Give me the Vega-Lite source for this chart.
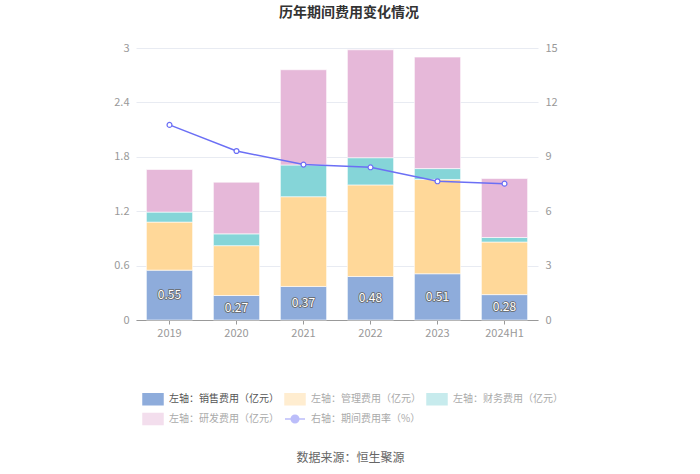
{
  "$schema": "https://vega.github.io/schema/vega-lite/v6.json",
  "autosize": "none",
  "width": 402,
  "height": 272,
  "padding": {"left": 136, "top": 48, "right": 162, "bottom": 154},
  "background": "white",
  "config": {
    "font": "Noto Sans CJK SC",
    "view": {"stroke": null}
  },
  "title": {
    "text": "历年期间费用变化情况",
    "fontSize": 14,
    "fontWeight": "bold",
    "color": "#333333",
    "anchor": "middle",
    "dx": 12,
    "offset": 22
  },
  "datasets": {
    "cost": [
      {"year": "2019", "type": "左轴：销售费用（亿元）", "seq": 1, "value": 0.55},
      {"year": "2019", "type": "左轴：管理费用（亿元）", "seq": 2, "value": 0.53},
      {"year": "2019", "type": "左轴：财务费用（亿元）", "seq": 3, "value": 0.11},
      {"year": "2019", "type": "左轴：研发费用（亿元）", "seq": 4, "value": 0.47},
      {"year": "2020", "type": "左轴：销售费用（亿元）", "seq": 1, "value": 0.27},
      {"year": "2020", "type": "左轴：管理费用（亿元）", "seq": 2, "value": 0.55},
      {"year": "2020", "type": "左轴：财务费用（亿元）", "seq": 3, "value": 0.13},
      {"year": "2020", "type": "左轴：研发费用（亿元）", "seq": 4, "value": 0.57},
      {"year": "2021", "type": "左轴：销售费用（亿元）", "seq": 1, "value": 0.37},
      {"year": "2021", "type": "左轴：管理费用（亿元）", "seq": 2, "value": 0.99},
      {"year": "2021", "type": "左轴：财务费用（亿元）", "seq": 3, "value": 0.35},
      {"year": "2021", "type": "左轴：研发费用（亿元）", "seq": 4, "value": 1.05},
      {"year": "2022", "type": "左轴：销售费用（亿元）", "seq": 1, "value": 0.48},
      {"year": "2022", "type": "左轴：管理费用（亿元）", "seq": 2, "value": 1.01},
      {"year": "2022", "type": "左轴：财务费用（亿元）", "seq": 3, "value": 0.30},
      {"year": "2022", "type": "左轴：研发费用（亿元）", "seq": 4, "value": 1.19},
      {"year": "2023", "type": "左轴：销售费用（亿元）", "seq": 1, "value": 0.51},
      {"year": "2023", "type": "左轴：管理费用（亿元）", "seq": 2, "value": 1.04},
      {"year": "2023", "type": "左轴：财务费用（亿元）", "seq": 3, "value": 0.12},
      {"year": "2023", "type": "左轴：研发费用（亿元）", "seq": 4, "value": 1.23},
      {"year": "2024H1", "type": "左轴：销售费用（亿元）", "seq": 1, "value": 0.28},
      {"year": "2024H1", "type": "左轴：管理费用（亿元）", "seq": 2, "value": 0.58},
      {"year": "2024H1", "type": "左轴：财务费用（亿元）", "seq": 3, "value": 0.05},
      {"year": "2024H1", "type": "左轴：研发费用（亿元）", "seq": 4, "value": 0.65}
    ],
    "rate": [
      {"year": "2019", "rate": 10.76},
      {"year": "2020", "rate": 9.32},
      {"year": "2021", "rate": 8.57},
      {"year": "2022", "rate": 8.42},
      {"year": "2023", "rate": 7.65},
      {"year": "2024H1", "rate": 7.52}
    ]
  },
  "encoding": {
    "x": {
      "field": "year",
      "type": "nominal",
      "sort": null,
      "scale": {"paddingInner": 0.31, "paddingOuter": 0.155},
      "axis": {
        "labelAngle": 0,
        "labelColor": "#999999",
        "labelFontSize": 11,
        "labelPadding": 3,
        "tickSize": 4,
        "tickColor": "#999999",
        "domainColor": "#999999",
        "grid": false,
        "title": "数据来源：恒生聚源",
        "titleFontSize": 12,
        "titleFontWeight": "normal",
        "titleColor": "#666666",
        "titleX": 214,
        "titleY": 137,
        "titleAlign": "center",
        "titleBaseline": "middle"
      }
    }
  },
  "layer": [
    {
      "data": {"name": "cost"},
      "mark": {"type": "bar", "stroke": "white", "strokeWidth": 0.6},
      "encoding": {
        "y": {
          "field": "value",
          "type": "quantitative",
          "aggregate": "sum",
          "stack": "zero",
          "scale": {"domain": [0, 3], "nice": false},
          "axis": {
            "title": null,
            "values": [0, 0.6, 1.2, 1.8, 2.4, 3],
            "format": "~g",
            "labelColor": "#999999",
            "labelFontSize": 11,
            "labelPadding": 7,
            "domain": false,
            "ticks": false,
            "gridColor": "#e8ebf2",
            "gridWidth": 1
          }
        },
        "order": {"field": "seq", "type": "quantitative", "sort": "ascending"},
        "color": {
          "field": "type",
          "type": "nominal",
          "scale": {
            "domain": ["左轴：销售费用（亿元）", "左轴：管理费用（亿元）", "左轴：财务费用（亿元）", "左轴：研发费用（亿元）", "右轴：期间费用率（%）"],
            "range": ["#8eacdb", "#ffd899", "#85d5d8", "#e6b8d9", "#6b6ff5"]
          },
          "legend": {
            "title": null,
            "orient": "none",
            "legendX": 6,
            "legendY": 340,
            "direction": "horizontal",
            "columns": 3,
            "columnPadding": 3,
            "rowPadding": 0,
            "labelFontSize": 10,
            "labelColor": "#999999",
            "labelOffset": 5,
            "symbolSize": 400,
            "labelLimit": 200,
            "encode": {
              "symbols": {
                "update": {
                  "shape": {"signal": "datum.value === '右轴：期间费用率（%）' ? 'M-1,0H-0.38A0.38,0.38,0,1,1,0.38,0A0.38,0.38,0,1,1,-0.38,0M0.38,0H1' : 'M-1,-0.55H1V0.55H-1Z'"},
                  "fill": {"signal": "datum.value === '右轴：期间费用率（%）' ? 'white' : scale('color', datum.value)"},
                  "stroke": {"signal": "datum.value === '右轴：期间费用率（%）' ? scale('color', datum.value) : null"},
                  "strokeWidth": {"value": 1.5},
                  "opacity": {"signal": "datum.value === '左轴：销售费用（亿元）' ? 1 : 0.45"}
                }
              },
              "labels": {
                "update": {
                  "fill": {"signal": "datum.value === '左轴：销售费用（亿元）' ? '#555555' : '#aaaaaa'"}
                }
              }
            }
          }
        }
      }
    },
    {
      "data": {"name": "cost"},
      "transform": [{"filter": "datum.type === '左轴：销售费用（亿元）'"}],
      "mark": {"type": "text", "fontSize": 12, "fill": "#666666", "stroke": "#666666", "strokeWidth": 1.6, "baseline": "middle"},
      "encoding": {
        "y": {"field": "value", "type": "quantitative", "scale": {"domain": [0, 6], "nice": false}, "axis": null},
        "text": {"field": "value", "type": "quantitative", "format": ".2f"}
      }
    },
    {
      "data": {"name": "cost"},
      "transform": [{"filter": "datum.type === '左轴：销售费用（亿元）'"}],
      "mark": {"type": "text", "fontSize": 12, "fill": "white", "baseline": "middle"},
      "encoding": {
        "y": {"field": "value", "type": "quantitative", "scale": {"domain": [0, 6], "nice": false}, "axis": null},
        "text": {"field": "value", "type": "quantitative", "format": ".2f"}
      }
    },
    {
      "data": {"name": "rate"},
      "mark": {"type": "line", "strokeWidth": 1.5, "point": {"filled": false, "fill": "white", "size": 24, "strokeWidth": 1.2}},
      "encoding": {
        "y": {
          "field": "rate",
          "type": "quantitative",
          "scale": {"domain": [0, 15], "nice": false},
          "axis": {
            "orient": "right",
            "title": null,
            "values": [0, 3, 6, 9, 12, 15],
            "labelColor": "#999999",
            "labelFontSize": 11,
            "labelPadding": 7,
            "domain": false,
            "ticks": false,
            "grid": false
          }
        },
        "color": {
          "datum": "右轴：期间费用率（%）",
          "type": "nominal",
          "legend": {
            "title": null,
            "orient": "none",
            "legendX": 6,
            "legendY": 340,
            "direction": "horizontal",
            "columns": 3,
            "columnPadding": 3,
            "rowPadding": 0,
            "labelFontSize": 10,
            "labelColor": "#999999",
            "labelOffset": 5,
            "symbolSize": 400,
            "labelLimit": 200,
            "encode": {
              "symbols": {
                "update": {
                  "shape": {"signal": "datum.value === '右轴：期间费用率（%）' ? 'M-1,0H-0.38A0.38,0.38,0,1,1,0.38,0A0.38,0.38,0,1,1,-0.38,0M0.38,0H1' : 'M-1,-0.55H1V0.55H-1Z'"},
                  "fill": {"signal": "datum.value === '右轴：期间费用率（%）' ? 'white' : scale('color', datum.value)"},
                  "stroke": {"signal": "datum.value === '右轴：期间费用率（%）' ? scale('color', datum.value) : null"},
                  "strokeWidth": {"value": 1.5},
                  "opacity": {"signal": "datum.value === '左轴：销售费用（亿元）' ? 1 : 0.45"}
                }
              },
              "labels": {
                "update": {
                  "fill": {"signal": "datum.value === '左轴：销售费用（亿元）' ? '#555555' : '#aaaaaa'"}
                }
              }
            }
          }
        }
      }
    }
  ],
  "resolve": {"scale": {"y": "independent"}}
}
